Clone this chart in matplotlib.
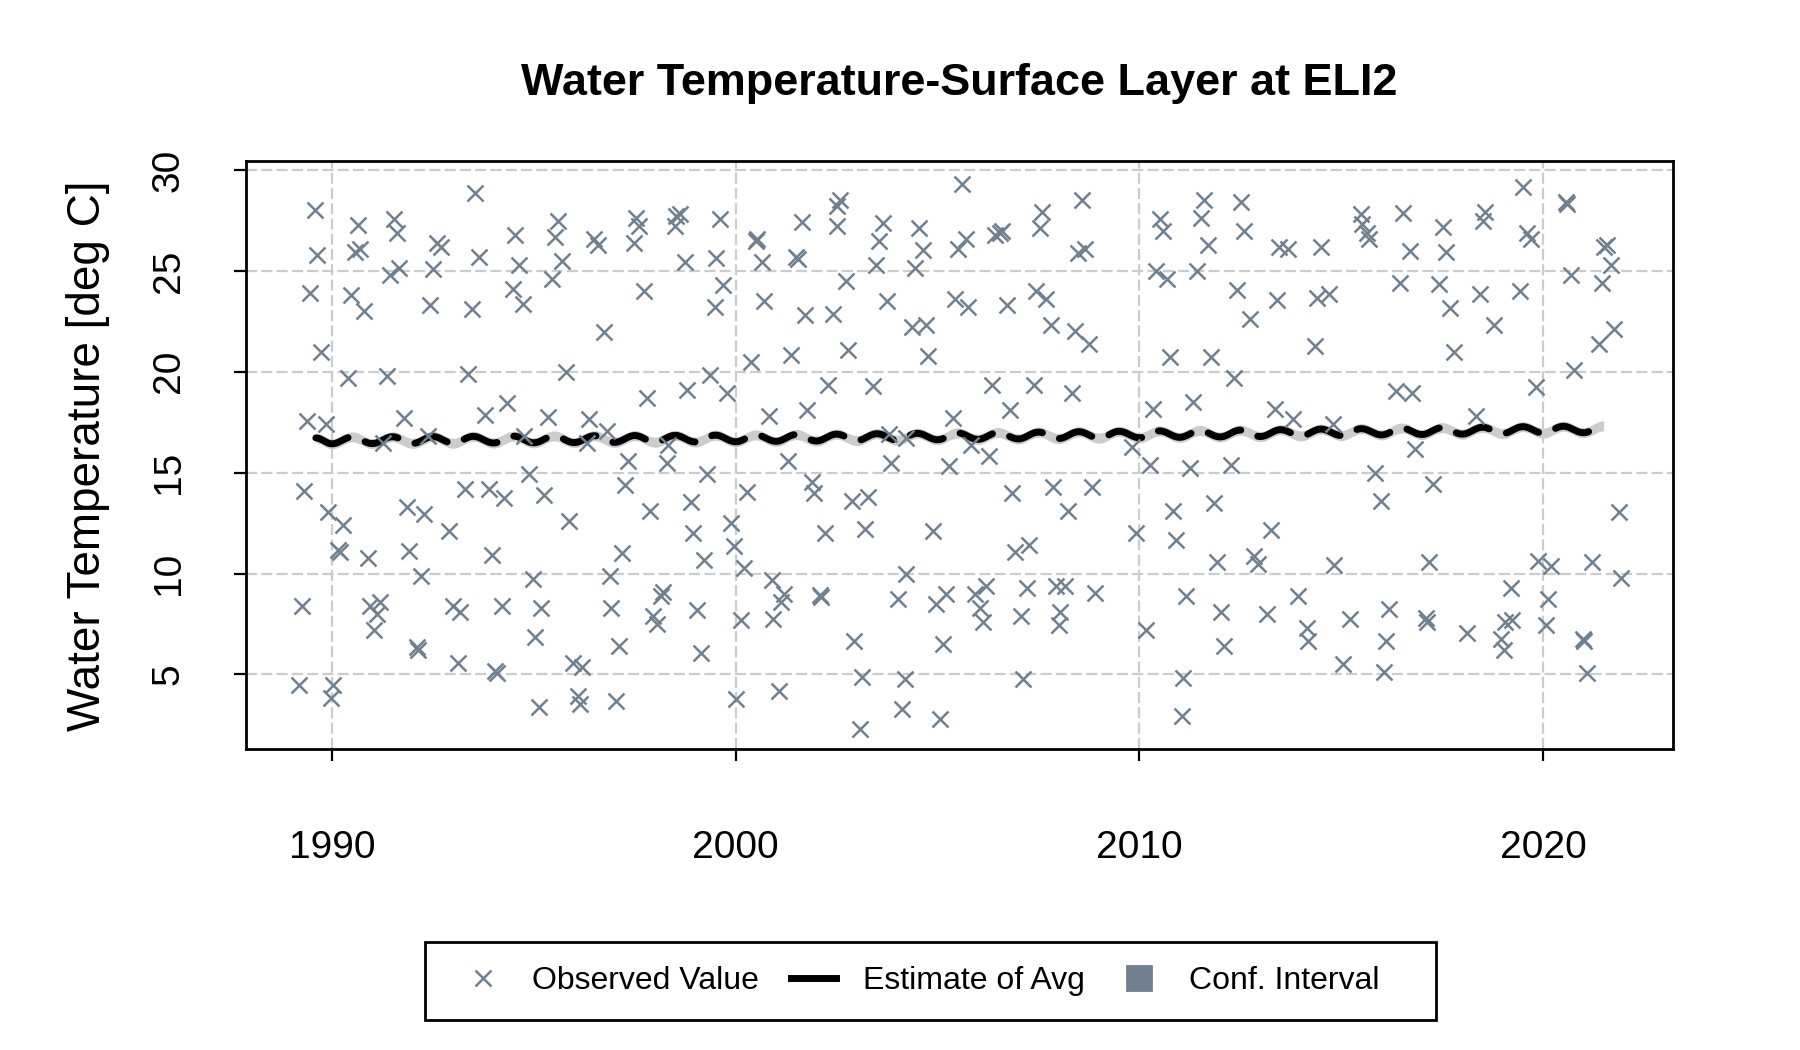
import numpy as np
import matplotlib
matplotlib.use("Agg")
import matplotlib.pyplot as plt
from matplotlib.lines import Line2D
from matplotlib.patches import Rectangle

plt.rcParams['font.family'] = ['Liberation Sans', 'DejaVu Sans']
plt.rcParams['lines.scale_dashes'] = False

TITLE = "Water Temperature-Surface Layer at ELI2"
YLABEL = "Water Temperature [deg C]"
X_TICKS = [1990, 2000, 2010, 2020]
Y_TICKS = [5, 10, 15, 20, 25, 30]
LEGEND_LABELS = ["Observed Value", "Estimate of Avg", "Conf. Interval"]

obs_year = [
    1989.58, 1989.64, 1989.45, 1989.74, 1989.37, 1989.85, 1989.31, 1989.91, 1989.25, 1989.18,
    1990.03, 1989.98, 1990.28, 1990.16, 1990.20, 1990.64, 1990.57, 1990.69, 1990.47, 1990.80,
    1990.39, 1990.90, 1990.94, 1991.19, 1991.12, 1991.05, 1991.54, 1991.60, 1991.44, 1991.67,
    1991.36, 1991.79, 1991.85, 1992.29, 1991.92, 1992.21, 1992.10, 1992.14, 1992.60, 1992.70,
    1992.50, 1992.43, 1992.39, 1991.27, 1992.90, 1993.01, 1993.17, 1993.13, 1993.55, 1993.63,
    1993.46, 1993.36, 1993.79, 1993.30, 1993.88, 1994.25, 1993.96, 1994.21, 1994.04, 1994.08,
    1994.33, 1994.53, 1994.64, 1994.48, 1994.72, 1994.89, 1995.26, 1994.76, 1994.98, 1995.17,
    1995.03, 1995.13, 1995.61, 1995.53, 1995.69, 1995.45, 1995.80, 1995.36, 1995.88, 1995.96,
    1996.19, 1996.09, 1996.15, 1996.48, 1996.60, 1996.73, 1996.36, 1996.81, 1996.31,
    1996.88, 1996.92, 1997.12, 1997.04, 1997.33, 1997.27, 1997.19, 1997.54, 1997.60, 1997.47,
    1997.73, 1997.80, 1997.87, 1997.95, 1998.06, 1998.16, 1998.20, 1998.32, 1998.31, 1998.53,
    1998.61, 1998.49, 1998.74, 1998.79, 1998.90, 1998.94, 1999.21, 1999.05, 1999.15, 1999.29,
    1999.36, 1999.62, 1999.52, 1999.69, 1999.49, 1999.79, 1999.88, 1999.96, 2000.21, 2000.14,
    2000.02, 2000.28, 2000.50, 2000.53, 2000.65, 2000.70, 2000.37, 2000.82, 2000.90, 2001.20,
    2001.13, 2000.93, 2001.07, 2001.30, 2001.38, 2001.50, 2001.55, 2001.64, 2001.71, 2001.77,
    2001.90, 2001.94, 2002.08, 2002.12, 2002.21, 2002.40, 2002.29, 2002.50, 2002.52, 2002.58,
    2002.73, 2002.79, 2002.88, 2003.28, 2003.21, 2002.93, 2003.13, 2003.09, 2003.47, 2003.55,
    2003.65, 2003.74, 2003.39, 2003.79, 2003.86, 2004.21, 2004.02, 2004.12, 2004.20, 2004.23,
    2004.55, 2004.63, 2004.44, 2004.36, 2004.71, 2004.77, 2004.88, 2004.96, 2005.22, 2005.14,
    2005.06, 2005.29, 2005.39, 2005.60, 2005.51, 2005.70, 2005.43, 2005.76, 2005.84,
    2006.28, 2005.93, 2006.20, 2006.05, 2006.13, 2006.36, 2006.79, 2006.85, 2006.92, 2007.27,
    2007.21, 2007.06, 2007.12, 2006.42, 2006.54, 2006.61, 2006.73, 2007.39, 2007.60, 2007.54,
    2007.45, 2007.70, 2007.80, 2007.87, 2008.24, 2007.93, 2008.16, 2008.03, 2008.01, 2008.34,
    2008.40, 2008.75, 2008.57, 2008.49, 2008.65, 2008.83, 2008.90, 2009.81, 2009.91, 2010.17,
    2010.26, 2010.35, 2010.51, 2010.58, 2010.41, 2010.69, 2010.76, 2010.84, 2010.90, 2011.16,
    2011.09, 2011.05, 2011.26, 2011.34, 2011.44, 2011.52, 2011.59, 2011.69, 2011.77, 2011.85,
    2012.02, 2011.93, 2012.10, 2012.26, 2012.35, 2012.43, 2012.52, 2012.60, 2012.73, 2012.83,
    2012.95, 2013.17, 2013.26, 2013.35, 2013.42, 2013.47, 2013.69, 2013.80, 2013.92, 2014.15,
    2014.17, 2014.36, 2014.50, 2014.40, 2014.69, 2014.79, 2014.81, 2015.05,
    2015.21, 2015.48, 2015.52, 2015.64, 2015.68, 2015.98, 2015.85, 2016.18, 2016.10, 2016.06,
    2016.54, 2016.45, 2016.70, 2016.37, 2016.76, 2016.84, 2017.28, 2017.17, 2017.09, 2017.12,
    2017.52, 2017.60, 2017.43, 2017.69, 2017.79, 2018.35, 2018.12, 2018.45, 2018.79, 2018.57,
    2018.52, 2019.20, 2019.07, 2019.24, 2018.95, 2019.03, 2019.42, 2019.51, 2019.61, 2019.69,
    2019.82, 2019.88, 2020.19, 2020.13, 2020.07, 2020.56, 2020.60, 2020.69, 2020.77, 2020.98,
    2021.02, 2021.10, 2021.22, 2021.50, 2021.58, 2021.69, 2021.45, 2021.39, 2021.76, 2021.87,
    2021.94,
]
obs_value = [
    28.00, 25.78, 23.91, 21.00, 17.57, 17.40, 14.09, 13.07, 8.40, 4.47,
    4.47, 3.84, 12.42, 11.15, 11.05, 27.29, 25.92, 26.07, 23.81, 22.99,
    19.69, 10.79, 8.40, 8.59, 8.00, 7.22, 27.55, 26.86, 24.80, 25.13,
    19.79, 17.69, 13.31, 12.97, 11.11, 9.87, 6.34, 6.20, 26.40, 26.17,
    25.09, 23.32, 16.80, 16.45, 12.09, 8.40, 8.10, 5.55, 28.88, 25.68,
    23.09, 19.89, 17.86, 14.19, 14.19, 13.76, 10.91, 8.40, 5.16, 5.06,
    18.47, 26.80, 25.29, 24.11, 23.38, 14.94, 13.90, 16.80, 9.73, 8.30,
    6.83, 3.39, 27.50, 26.66, 25.48, 24.60, 19.98, 17.78, 12.58, 5.55,
    5.35, 3.92, 3.53, 26.56, 26.27, 21.95, 17.67, 17.08, 16.45,
    9.87, 8.30, 6.43, 3.68, 15.57, 14.39, 11.01, 27.60, 27.25, 26.37,
    24.01, 18.71, 13.11, 7.91, 7.51, 8.89, 9.08, 16.35, 15.47, 27.74,
    27.84, 27.25, 25.44, 19.10, 13.56, 12.03, 10.66, 8.20, 6.08, 14.94,
    19.83, 27.58, 25.64, 24.30, 23.22, 18.96, 12.52, 11.34, 10.26, 7.71,
    3.78, 14.05, 26.50, 26.60, 25.44, 23.52, 20.48, 17.82, 9.67, 8.99,
    8.59, 7.75, 4.18, 15.57, 20.81, 25.68, 25.58, 27.45, 22.83, 18.12,
    14.55, 13.99, 8.95, 8.83, 12.03, 22.87, 19.36, 27.25, 28.23, 28.53,
    24.50, 21.10, 13.60, 13.80, 12.19, 6.63, 4.86, 2.31, 25.29, 26.50,
    27.39, 23.52, 19.30, 16.94, 15.47, 9.97, 8.75, 3.29, 4.76, 16.74,
    27.15, 26.03, 25.15, 22.24, 22.34, 20.77, 12.09, 8.50, 8.99, 6.53,
    2.80, 15.31, 17.73, 29.31, 26.11, 26.56, 23.62, 23.22, 16.35,
    15.82, 8.99, 9.38, 8.30, 7.61, 19.36, 18.12, 13.99, 11.05, 11.40,
    9.28, 7.91, 4.76, 26.76, 26.86, 26.96, 23.32, 19.34, 27.94, 27.11,
    24.01, 23.62, 22.34, 14.29, 13.11, 9.38, 9.38, 8.10, 7.45, 18.96,
    22.00, 21.40, 28.53, 25.88, 26.07, 14.29, 9.03, 16.29, 12.03, 7.22,
    15.37, 18.16, 27.55, 27.00, 24.99, 24.60, 20.71, 13.11, 11.64, 8.89,
    4.80, 2.94, 15.21, 18.51, 24.99, 27.60, 28.53, 26.27, 20.71, 13.50,
    8.10, 10.56, 6.43, 15.37, 19.69, 24.07, 28.43, 26.96, 22.64, 10.85,
    10.46, 7.97, 12.15, 18.18, 23.56, 26.17, 26.07, 17.67, 8.89, 7.32,
    6.63, 21.30, 26.17, 23.68, 23.87, 17.43, 10.40, 5.50,
    7.76, 27.84, 27.35, 26.86, 26.56, 13.60, 14.98, 8.24, 6.63, 5.10,
    27.88, 24.40, 25.97, 19.06, 18.96, 16.16, 14.43, 10.56, 7.81, 7.61,
    27.19, 25.92, 24.34, 23.17, 21.00, 17.82, 7.06, 23.87, 22.34, 27.94,
    27.49, 9.28, 7.61, 7.71, 6.73, 6.20, 24.01, 29.18, 26.86, 26.56,
    19.24, 10.60, 10.36, 8.75, 7.45, 28.43, 28.33, 24.80, 20.08, 6.73,
    6.63, 5.06, 10.56, 26.17, 26.27, 25.29, 24.40, 21.36, 22.14, 13.07,
    9.77,
]

# Estimated average: start value, then seasonal lows (at Y.0) and highs (at Y.5)
line_start_year = 1989.6
line_start_value = 16.72
est_years = list(range(1990, 2022))
est_low = [16.43, 16.44, 16.45, 16.46, 16.47, 16.48, 16.49, 16.50, 16.51, 16.52,
           16.53, 16.55, 16.57, 16.59, 16.61, 16.63, 16.65, 16.67, 16.69, 16.71,
           16.73, 16.75, 16.77, 16.79, 16.82, 16.84, 16.87, 16.89, 16.91, 16.94,
           16.96, 16.98]
est_high = [16.77, 16.78, 16.79, 16.80, 16.81, 16.82, 16.83, 16.84, 16.85, 16.86,
            16.87, 16.89, 16.91, 16.93, 16.95, 16.97, 16.99, 17.01, 17.03, 17.05,
            17.07, 17.09, 17.11, 17.13, 17.16, 17.18, 17.21, 17.23, 17.25, 17.28,
            17.30, 17.32]
ci_half_width = 0.25

# knots of the estimate curve
kx = [line_start_year]
ky = [line_start_value]
for y, lo, hi in zip(est_years, est_low, est_high):
    kx += [y, y + 0.5]
    ky += [lo, hi]
kx = np.array(kx)
ky = np.array(ky)
# smooth (cosine-eased) rendering between the read knots
cx, cy = [], []
for i in range(len(kx) - 1):
    s = np.linspace(0, 1, 20, endpoint=False)
    w = (1 - np.cos(np.pi * s)) / 2
    cx.append(kx[i] + (kx[i + 1] - kx[i]) * s)
    cy.append(ky[i] + (ky[i + 1] - ky[i]) * w)
cx.append([kx[-1]])
cy.append([ky[-1]])
cx = np.concatenate(cx)
cy = np.concatenate(cy)

SLATE = '#708090'

fig = plt.figure(figsize=(9, 5.25), dpi=200)
ax = fig.add_axes([246 / 1800, 1 - 749 / 1050, (1673 - 246) / 1800, (749 - 161) / 1050])

ax.set_xlim(1987.87, 2023.22)
ax.set_ylim(1.3, 30.45)
ax.set_xticks(X_TICKS)
ax.set_yticks(Y_TICKS)
ax.grid(True, color='#cccccc', linewidth=0.8, linestyle=(0, (4, 1.5)), zorder=0)
ax.set_axisbelow(True)

ax.fill_between(cx, cy - ci_half_width, cy + ci_half_width, color='#cccccc',
                linewidth=0, zorder=2)
ax.plot(cx, cy, color='black', linewidth=2.5, dashes=(12.5, 6.5),
        solid_capstyle='round', dash_capstyle='round', zorder=3)
ax.plot(obs_year, obs_value, linestyle='none', marker='x', markersize=5.8,
        markeredgewidth=0.9, color=SLATE, zorder=4)

for sp in ax.spines.values():
    sp.set_linewidth(1.0)
    sp.set_color('black')
ax.tick_params(axis='both', direction='out', length=4.3, width=0.8, labelsize=14,
               colors='black')
ax.tick_params(axis='x', pad=25)
ax.tick_params(axis='y', pad=17)
for lab in ax.get_yticklabels():
    lab.set_rotation(90)
    lab.set_va('center')
    lab.set_ha('right')

fig.text(959.5 / 1800, 1 - 83 / 1050, TITLE, ha='center', va='center',
         fontsize=16.2, fontweight='bold')
fig.text(88.5 / 1800, 1 - 456 / 1050, YLABEL, ha='center', va='center',
         rotation=90, fontsize=16.5)

handles = [
    Line2D([], [], linestyle='none', marker='x', markersize=5.5, markeredgewidth=0.9, color=SLATE),
    Line2D([], [], color='black', linewidth=2.5),
    Line2D([], [], linestyle='none', marker='s', markersize=8.5, color=SLATE),
]
leg = fig.legend(handles, LEGEND_LABELS, loc='center', bbox_to_anchor=(0.511, 0.0657),
                 ncol=3, fontsize=11.5, frameon=False, borderpad=0.0,
                 handlelength=1.4, handletextpad=0.85, columnspacing=1.0)
# legend box
fig.add_artist(Rectangle((425 / 1800, 1 - 1020 / 1050), 1011 / 1800, 78 / 1050,
                         transform=fig.transFigure, fill=False, edgecolor='black',
                         linewidth=1.0, zorder=5))

fig.savefig('out.png', dpi=200)
